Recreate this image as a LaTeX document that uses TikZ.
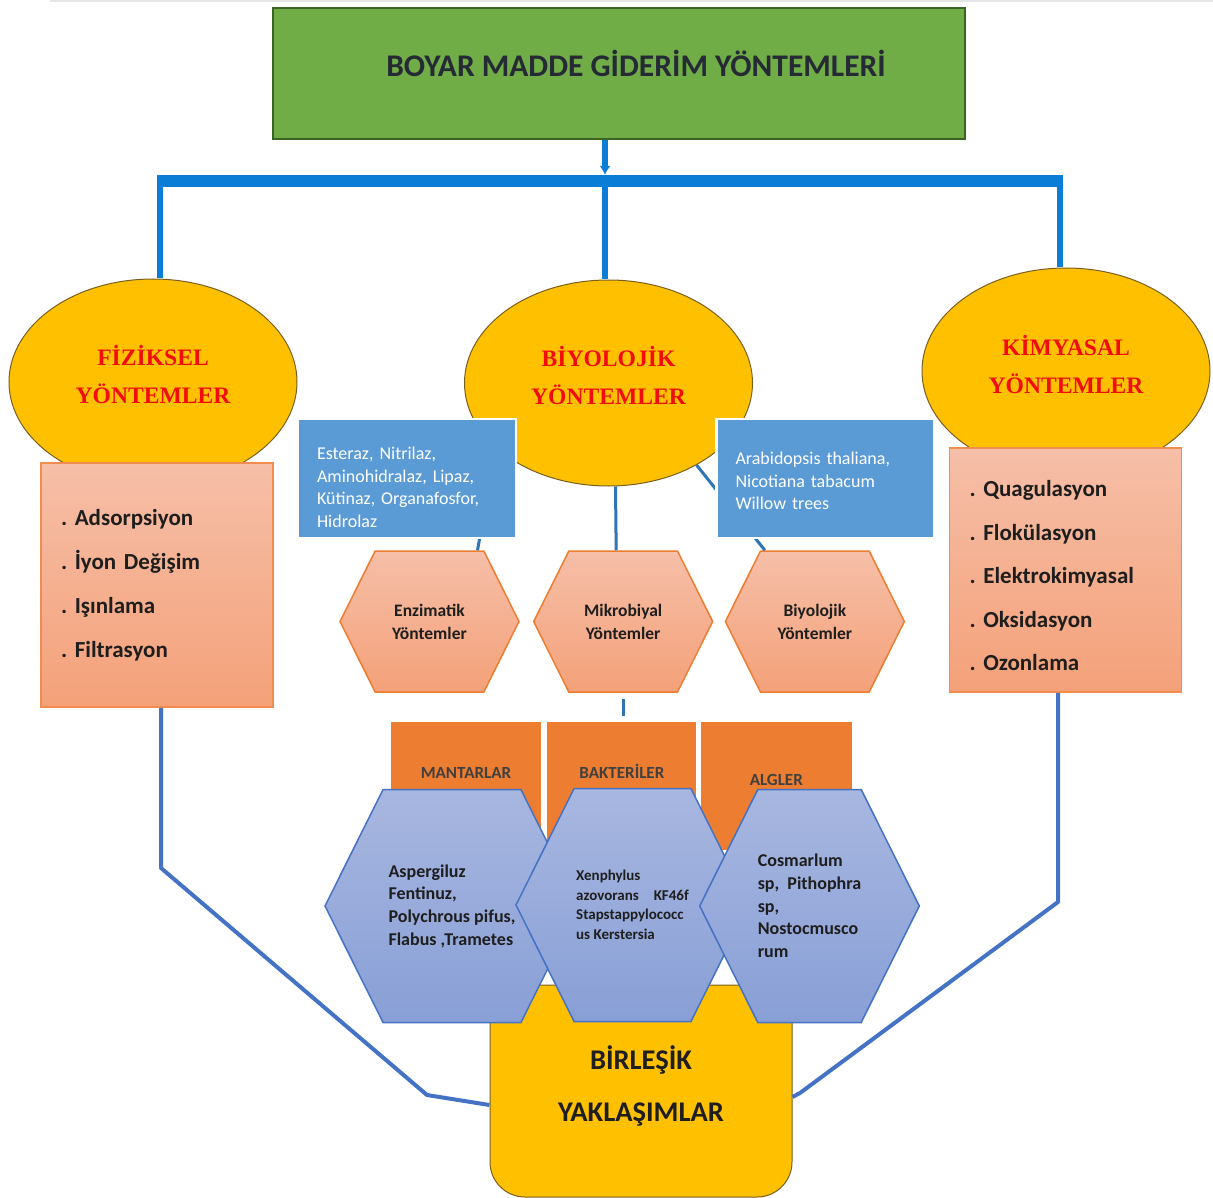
\documentclass[tikz,border=0pt]{standalone}
\usepackage{fontspec}
\setmainfont{Carlito}
\newfontfamily\ovalfont{Liberation Serif}
\usepackage{xcolor}
\usepackage{tikz}
\usetikzlibrary{arrows.meta,positioning,shapes.geometric,shapes.symbols}

\definecolor{titlegreen}{HTML}{70AD47}
\definecolor{titleline}{HTML}{3B6324}
\definecolor{titletext}{HTML}{252A35}
\definecolor{busblue}{HTML}{0A7ED6}
\definecolor{ovalyellow}{HTML}{FFC000}
\definecolor{ovalline}{HTML}{7A6020}
\definecolor{ovalred}{HTML}{F20D0D}
\definecolor{salmontop}{HTML}{F6BFA8}
\definecolor{salmonbot}{HTML}{F4A179}
\definecolor{listline}{HTML}{F08C4E}
\definecolor{darktext}{HTML}{1E1E1E}
\definecolor{boxblue}{HTML}{5B9BD5}
\definecolor{hexoline}{HTML}{ED7D31}
\definecolor{taborange}{HTML}{ED7D31}
\definecolor{tabtext}{HTML}{404040}
\definecolor{hexbtop}{HTML}{A8B7E0}
\definecolor{hexbbot}{HTML}{889FD6}
\definecolor{hexbline}{HTML}{4472C4}
\definecolor{linkblue}{HTML}{2E75B6}
\definecolor{mergeblue}{HTML}{4472C4}

\begin{document}
\frenchspacing
\begin{tikzpicture}[
  x=1pt, y=-1pt,
  node distance=6pt and 5pt,
  headbox/.style={draw=titleline, line width=2pt, fill=titlegreen, minimum width=692pt, minimum height=131pt, text height=20pt, text depth=14pt, font=\bfseries\fontsize{31.5}{36}\selectfont, text=titletext},
  oval/.style={ellipse, draw=ovalline, line width=1pt, fill=ovalyellow, minimum width=288pt, minimum height=206pt, inner sep=0pt, align=center, text=ovalred, font=\ovalfont\bfseries\fontsize{23.6}{38}\selectfont},
  listbox/.style={draw=listline, line width=1.5pt, top color=salmontop, bottom color=salmonbot, minimum width=232pt, minimum height=244pt, text width=192pt, inner xsep=20pt, align=left, text=darktext},
  enzbox/.style={fill=boxblue, draw=white, line width=2.5pt, text width=180pt, inner xsep=19pt, minimum height=119pt, align=left, text=white, font=\fontsize{18}{22.5}\selectfont},
  hexo/.style={signal, signal to=east and west, signal pointer angle=127, draw=hexoline, line width=1.5pt, top color=salmontop, bottom color=salmonbot, minimum height=141pt, minimum width=179pt, inner sep=0pt, align=center, text=darktext, font=\bfseries\fontsize{17.5}{23}\selectfont},
  tabbox/.style={fill=taborange, minimum width=150pt, minimum height=128pt, inner sep=0pt, text height=11pt, text depth=26pt, text=tabtext, font=\bfseries\fontsize{17}{20}\selectfont},
  hexb/.style={signal, signal to=east and west, signal pointer angle=127, draw=hexbline, line width=1.5pt, top color=hexbtop, bottom color=hexbbot, minimum height=233pt, inner sep=0pt, align=left, text=darktext, font=\bfseries\fontsize{18}{22.7}\selectfont},
  combo/.style={draw=ovalline, line width=1pt, fill=ovalyellow, rounded corners=35pt, minimum width=302pt, minimum height=212pt, align=center, text=darktext, font=\bfseries\fontsize{28.5}{52}\selectfont},
  bus/.style={line width=12pt, busblue},
  drop/.style={line width=6pt, busblue},
  link/.style={line width=3pt, linkblue},
  merge/.style={line width=4pt, mergeblue, line join=round}
]
  \useasboundingbox (0,0) rectangle (1213,1198);
  \draw[gray!20, line width=2pt] (50,1) -- (1213,1);

  \node[headbox] (title) at (619,74) {\hspace*{34pt}BOYAR MADDE GİDERİM YÖNTEMLERİ};

  \node[oval] (fizoval) at (153,382) {FİZİKSEL\\YÖNTEMLER\rule[-16pt]{0pt}{0pt}};
  \node[oval] (biooval) at (608.5,383) {BİYOLOJİK\\YÖNTEMLER\rule[-16pt]{0pt}{0pt}};
  \node[oval] (kimoval) at (1066,371) {KİMYASAL\\YÖNTEMLER\rule[-14pt]{0pt}{0pt}};

  \coordinate (busA) at (160,181);
  \coordinate (busB) at (605,181);
  \coordinate (busC) at (1060,181);
  \draw[drop, -{Latex[length=9pt,width=11pt]}] (title.south -| busB) -- ([yshift=6pt]busB);
  \draw[bus] ([xshift=-3pt]busA) -- ([xshift=3pt]busC);
  \draw[drop] (busA) -- (busA |- fizoval.north);
  \draw[drop] (busB) -- (busB |- biooval.north);
  \draw[drop] (busC) -- (busC |- kimoval.north);

  \node[hexo] (enzhex) at (429.5,621.5) {Enzimatik\\Yöntemler};
  \node[hexo, right=13pt of enzhex] (mikrohex) {Mikrobiyal\\Yöntemler};
  \node[hexo, right=11pt of mikrohex] (biyohex) {Biyolojik\\Yöntemler};

  \draw[link] (biooval.210) -- ([xshift=48pt]enzhex.north);
  \draw[link] ([xshift=7pt]biooval.south) -- ([xshift=-7pt]mikrohex.north);
  \draw[link] (biooval.-43) -- ([xshift=-50pt]biyohex.north);

  \node[enzbox] (enzlist) at (407,478.5) {\rule{0pt}{30pt}Esteraz, Nitrilaz,\\Aminohidralaz, Lipaz,\\Kütinaz, Organafosfor,\\Hidrolaz};
  \node[enzbox] (bitkilist) at (825.5,478.5) {\rule{0pt}{18pt}Arabidopsis thaliana,\\Nicotiana tabacum\\Willow trees};

  \node[listbox, font=\bfseries\fontsize{23}{44}\selectfont] (fizlist) at (157,585) {. Adsorpsiyon\\. İyon Değişim\\. Işınlama\\. Filtrasyon};
  \node[listbox, font=\bfseries\fontsize{23}{43.5}\selectfont] (kimlist) at (1065.5,570) {\rule{0pt}{28pt}. Quagulasyon\\. Flokülasyon\\. Elektrokimyasal\\. Oksidasyon\\. Ozonlama};

  \node[tabbox] (mantab) at (466,786) {MANTARLAR};
  \node[tabbox, minimum width=149pt, right=6pt of mantab] (baktab) {BAKTERİLER};
  \node[tabbox, minimum width=151pt, text depth=12pt, right=4pt of baktab] (algtab) {ALGLER};

  \draw[link, shorten <=6pt, shorten >=6pt] (mikrohex.south) -- (mikrohex.south |- baktab.north);

  \node[combo] (birlesik) at (641,1091) {BİRLEŞİK\\YAKLAŞIMLAR\rule[-14pt]{0pt}{0pt}};

  \coordinate (leftknee) at (161,868);
  \coordinate (leftfoot) at (427,1095);
  \coordinate (rightknee) at (1058,902);
  \coordinate (rightfoot) at (800,1093);
  \draw[merge] ([xshift=4pt]fizlist.south) -- (leftknee) -- (leftfoot) -- ([yshift=-14pt]birlesik.west);
  \draw[merge] ([xshift=-7.5pt]kimlist.south) -- (rightknee) -- (rightfoot) -- ([yshift=-6pt]birlesik.east);

  \node[hexb, minimum width=254pt] (manthex) at (452,906) {Aspergiluz\\Fentinuz,\\Polychrous pifus,\\Flabus ,Trametes};
  \node[hexb, minimum width=233pt, font=\bfseries\fontsize{15}{19.5}\selectfont] (bakthex) at (632.5,905) {Xenphylus\\azovorans\hspace{15pt}KF46f\\Stapstappylococc\\us Kerstersia};
  \node[hexb, minimum width=219pt] (alghex) at (809.5,906) {Cosmarlum\\sp,\ \ Pithophra\\sp,\\Nostocmusco\\rum};
\end{tikzpicture}
\end{document}
